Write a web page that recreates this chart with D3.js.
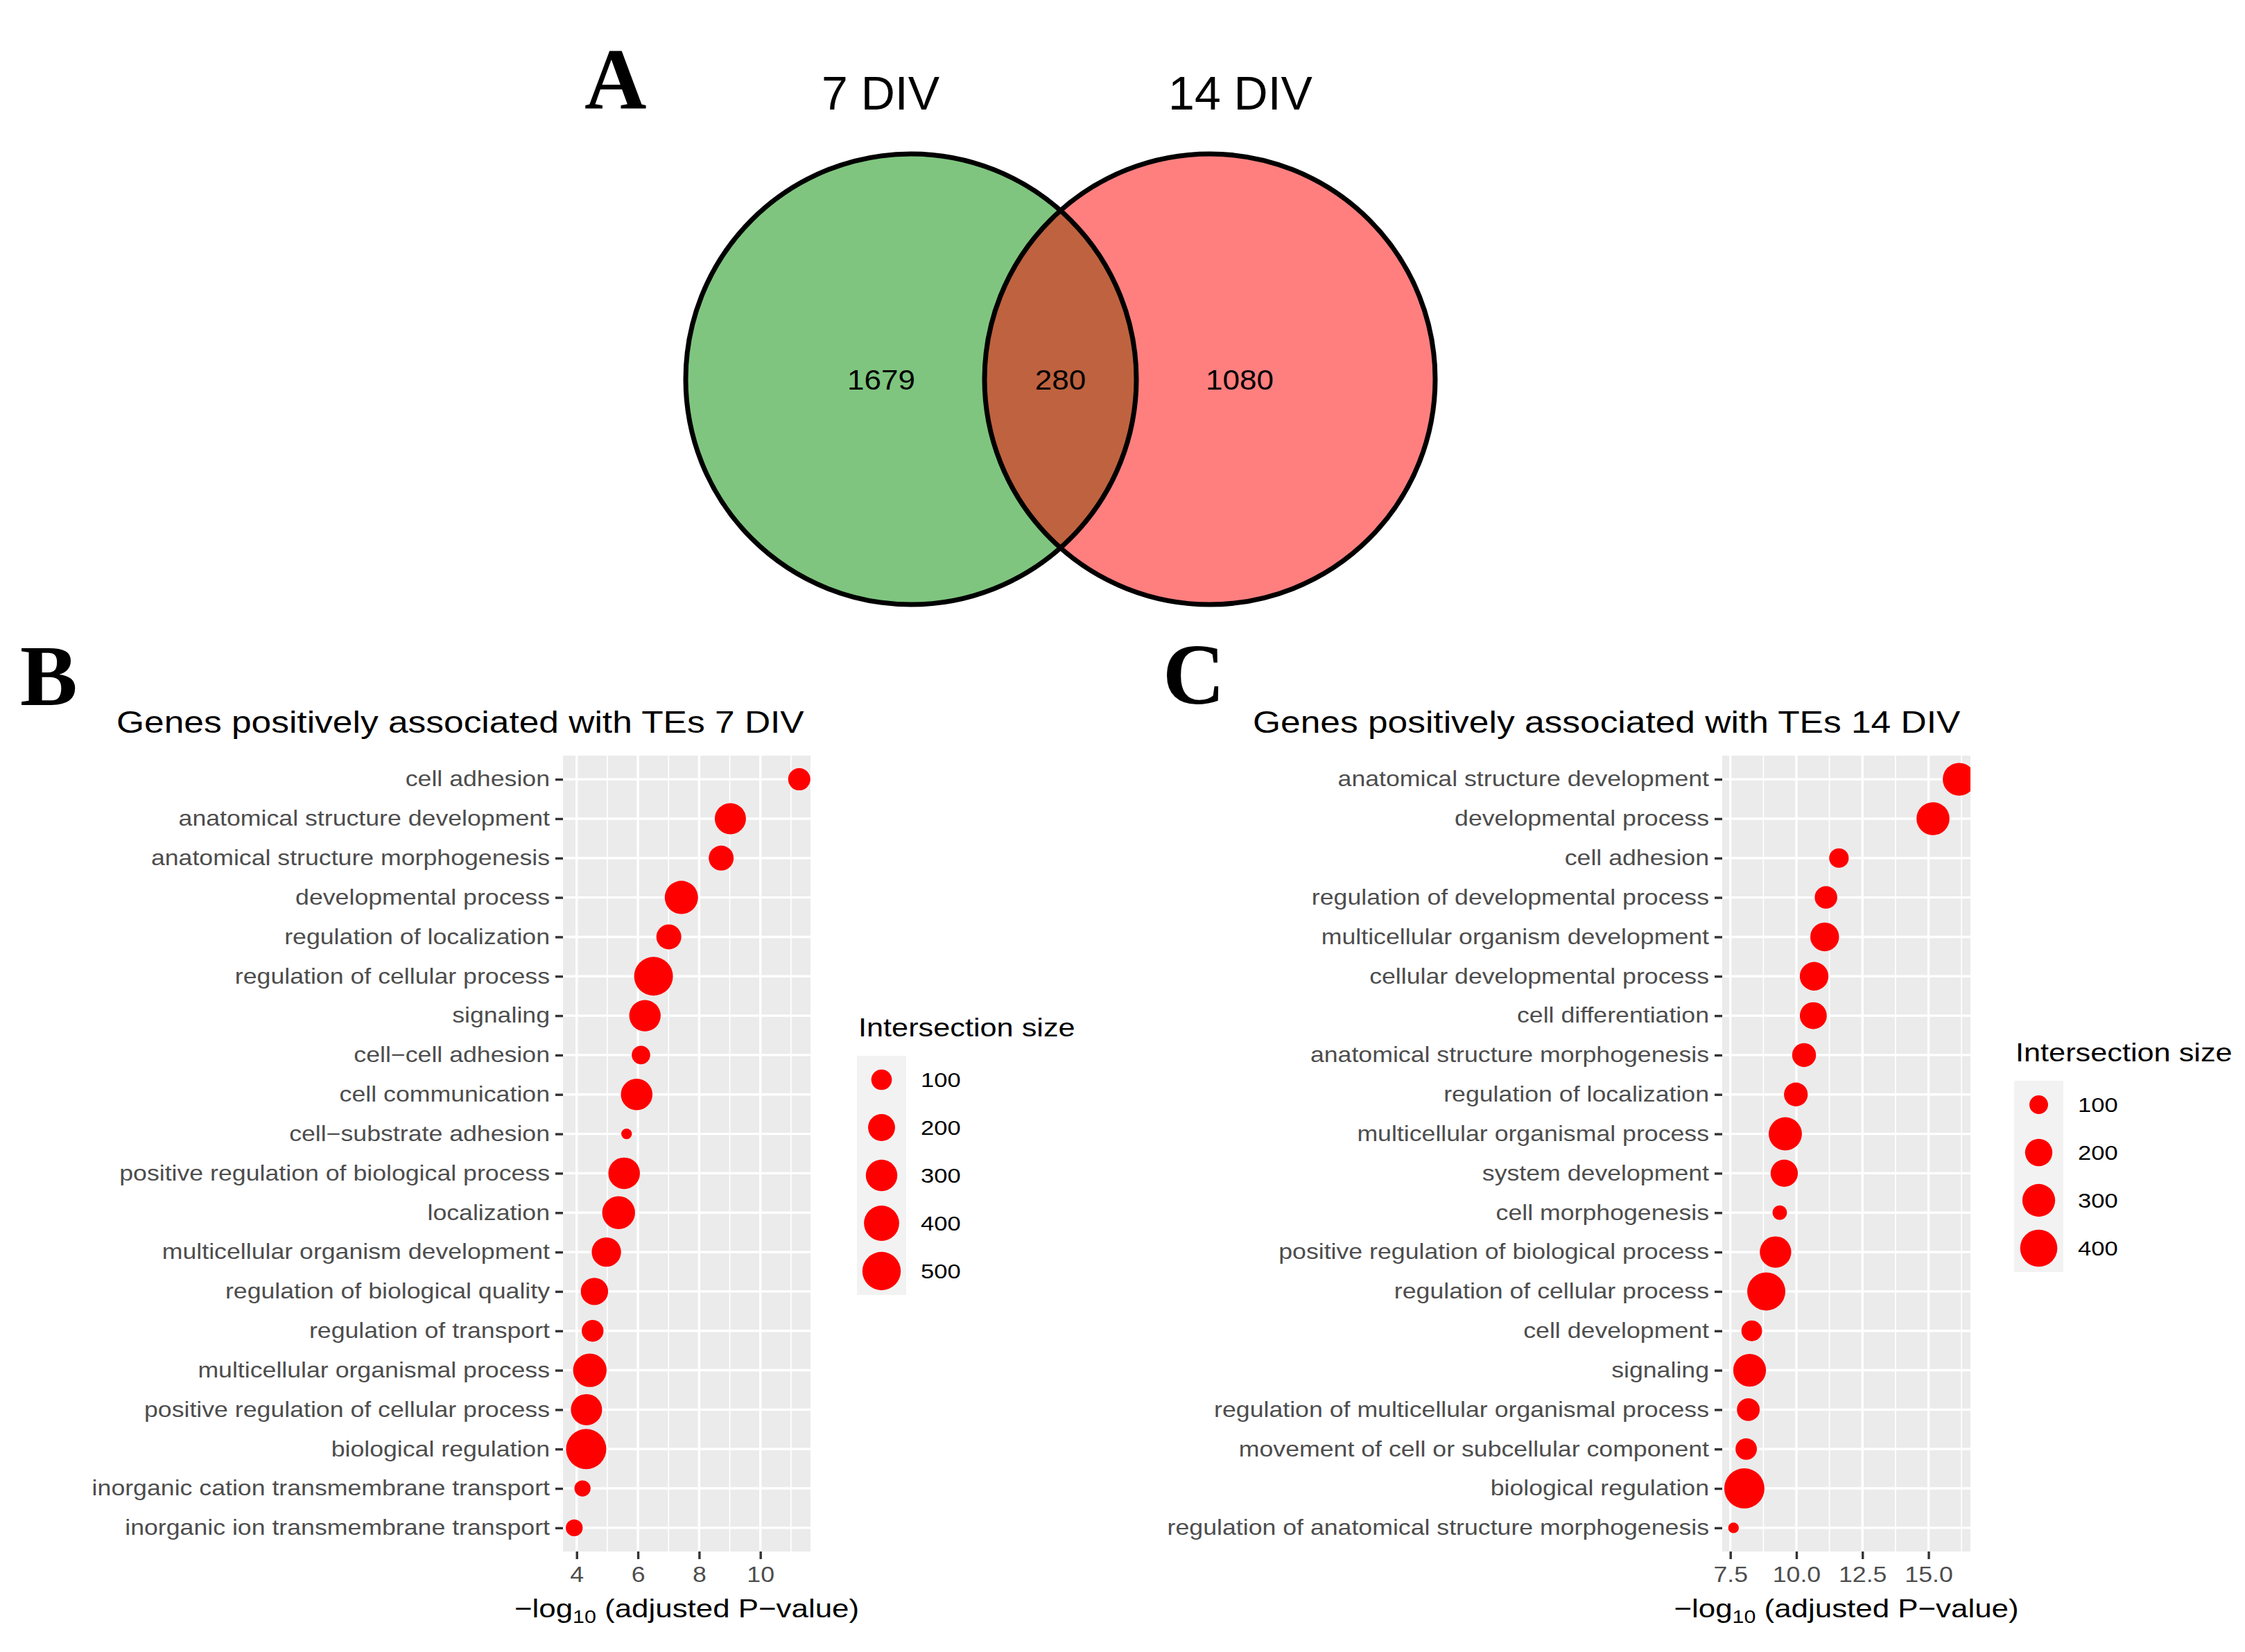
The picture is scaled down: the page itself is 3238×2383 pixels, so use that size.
<!DOCTYPE html>
<html>
<head>
<meta charset="utf-8">
<script src="https://cdn.jsdelivr.net/npm/d3@7"></script>
<style>
  html, body { margin: 0; padding: 0; background: #ffffff; }
  svg { display: block; }
</style>
</head>
<body>
<div id="chart"></div>
<script>
// ---------------- DATA ----------------
const vennSets = ["7 DIV", "14 DIV"];
const vennCounts = [1679, 280, 1080]; // left only, overlap, right only

const termsB = [
  "cell adhesion", "anatomical structure development", "anatomical structure morphogenesis",
  "developmental process", "regulation of localization", "regulation of cellular process",
  "signaling", "cell\u2212cell adhesion", "cell communication", "cell\u2212substrate adhesion",
  "positive regulation of biological process", "localization", "multicellular organism development",
  "regulation of biological quality", "regulation of transport", "multicellular organismal process",
  "positive regulation of cellular process", "biological regulation",
  "inorganic cation transmembrane transport", "inorganic ion transmembrane transport"
];
const pvalB = [11.27, 9.02, 8.72, 7.42, 7.01, 6.51, 6.23, 6.10, 5.96, 5.63,
               5.55, 5.37, 4.97, 4.58, 4.52, 4.43, 4.32, 4.31, 4.19, 3.92];
const sizeB = [121, 293, 163, 346, 163, 513, 299, 78, 302, 42,
               302, 335, 250, 207, 115, 353, 293, 561, 60, 65];

const termsC = [
  "anatomical structure development", "developmental process", "cell adhesion",
  "regulation of developmental process", "multicellular organism development",
  "cellular developmental process", "cell differentiation", "anatomical structure morphogenesis",
  "regulation of localization", "multicellular organismal process", "system development",
  "cell morphogenesis", "positive regulation of biological process", "regulation of cellular process",
  "cell development", "signaling", "regulation of multicellular organismal process",
  "movement of cell or subcellular component", "biological regulation",
  "regulation of anatomical structure morphogenesis"
];
const pvalC = [16.16, 15.17, 11.61, 11.12, 11.07, 10.67, 10.64, 10.29, 9.98, 9.58,
               9.54, 9.37, 9.21, 8.86, 8.31, 8.23, 8.18, 8.10, 8.03, 7.62];
const sizeC = [300, 304, 107, 136, 224, 222, 195, 152, 151, 309,
               199, 77, 273, 424, 117, 301, 139, 124, 480, 70];

const ticksB = [4, 6, 8, 10];
const ticksC = [7.5, 10.0, 12.5, 15.0];
const legendBreaksB = [100, 200, 300, 400, 500];
const legendBreaksC = [100, 200, 300, 400];
const titleB = "Genes positively associated with TEs 7 DIV";
const titleC = "Genes positively associated with TEs 14 DIV";
const legendTitle = "Intersection size";

// ---------------- LAYOUT ----------------
const W = 3238, H = 2383;
const SANS = "'Liberation Sans', Arial, Helvetica, sans-serif";
const SERIF = "'Liberation Serif', 'Times New Roman', serif";
const SX = 1.17; // horizontal stretch of ggplot text in the reference

const svg = d3.select("#chart").append("svg")
  .attr("width", W).attr("height", H).attr("viewBox", `0 0 ${W} ${H}`);
svg.append("rect").attr("width", W).attr("height", H).attr("fill", "#ffffff");

function stext(parent, x, y, str, o) {
  o = o || {};
  const g = parent.append("g").attr("transform", `translate(${x},${y}) scale(${o.sx || 1},1)`);
  return g.append("text")
    .attr("x", 0).attr("y", 0)
    .attr("text-anchor", o.anchor || "start")
    .attr("font-family", o.family || SANS)
    .attr("font-weight", o.weight || "normal")
    .attr("font-size", o.size || 30)
    .attr("fill", o.color || "#000000")
    .text(str);
}

// ---------------- PANEL A: Venn ----------------
const venn = {cx1: 1314, cx2: 1745, cy: 547, r: 325};
const vg = svg.append("g");
vg.append("circle").attr("cx", venn.cx1).attr("cy", venn.cy).attr("r", venn.r)
  .attr("fill", "rgb(0,140,0)").attr("fill-opacity", 0.5);
vg.append("circle").attr("cx", venn.cx2).attr("cy", venn.cy).attr("r", venn.r)
  .attr("fill", "rgb(255,0,0)").attr("fill-opacity", 0.5);
[venn.cx1, venn.cx2].forEach(cx => {
  vg.append("circle").attr("cx", cx).attr("cy", venn.cy).attr("r", venn.r)
    .attr("fill", "none").attr("stroke", "#000").attr("stroke-width", 7);
});
const setX = [venn.cx1 - 44, venn.cx2 + 44];
vennSets.forEach((s, i) => stext(vg, setX[i], 158, s, {size: 68, anchor: "middle"}));
const countX = [venn.cx1 - 43, (venn.cx1 + venn.cx2) / 2, venn.cx2 + 43];
vennCounts.forEach((c, i) => stext(vg, countX[i], 562, String(c), {size: 40, anchor: "middle", sx: 1.1}));

stext(svg, 843, 156, "A", {size: 124, family: SERIF, weight: "bold"});
stext(svg, 29, 1017, "B", {size: 124, family: SERIF, weight: "bold"});
stext(svg, 1677, 1015, "C", {size: 124, family: SERIF, weight: "bold"});

// ---------------- DOT PLOTS ----------------
function dotPlot(cfg) {
  const {terms, pvals, sizes, ticks, fmt, left, right, top, bottom, title, titleX,
         legendBreaks, legX, legTitleY, id} = cfg;
  const g = svg.append("g");
  const ext = d3.extent(pvals);
  const pad = 0.05 * (ext[1] - ext[0]);
  const x = d3.scaleLinear().domain([ext[0] - pad, ext[1] + pad]).range([left, right]);
  const y = d3.scalePoint().domain(terms).range([top, bottom]).padding(0.6);
  const sExt = d3.extent(sizes);
  const rS = d3.scaleSqrt().domain([0, sExt[1] - sExt[0]]).range([7.7, 29]);
  const r = v => rS(Math.max(0, v - sExt[0]));

  // panel background
  g.append("rect").attr("x", left).attr("y", top).attr("width", right - left).attr("height", bottom - top)
    .attr("fill", "#EBEBEB");
  // minor grid
  const step = ticks[1] - ticks[0];
  const minors = [ticks[0] - step / 2].concat(ticks.map(t => t + step / 2))
    .filter(m => m > x.domain()[0] && m < x.domain()[1]);
  g.selectAll(".minor").data(minors).join("line")
    .attr("x1", d => x(d)).attr("x2", d => x(d)).attr("y1", top).attr("y2", bottom)
    .attr("stroke", "#ffffff").attr("stroke-width", 1.7);
  // major grid
  g.selectAll(".majorx").data(ticks).join("line")
    .attr("x1", d => x(d)).attr("x2", d => x(d)).attr("y1", top).attr("y2", bottom)
    .attr("stroke", "#ffffff").attr("stroke-width", 3.4);
  g.selectAll(".majory").data(terms).join("line")
    .attr("x1", left).attr("x2", right).attr("y1", d => y(d)).attr("y2", d => y(d))
    .attr("stroke", "#ffffff").attr("stroke-width", 3.4);

  // points (clipped to panel)
  g.append("clipPath").attr("id", "clip" + id).append("rect")
    .attr("x", left).attr("y", top).attr("width", right - left).attr("height", bottom - top);
  g.append("g").attr("clip-path", `url(#clip${id})`)
    .selectAll("circle").data(terms).join("circle")
    .attr("cx", (d, i) => x(pvals[i])).attr("cy", d => y(d)).attr("r", (d, i) => r(sizes[i]))
    .attr("fill", "#FF0000");

  // y axis
  const ya = g.append("g").attr("transform", `translate(${left},0)`)
    .call(d3.axisLeft(y).tickSize(11).tickPadding(8));
  ya.select(".domain").remove();
  ya.selectAll("line").attr("stroke", "#333333").attr("stroke-width", 3.4);
  ya.selectAll("text").attr("font-family", SANS).attr("font-size", 30.5).attr("fill", "#4D4D4D")
    .attr("x", -19 / SX).attr("transform", `scale(${SX},1)`);
  ya.attr("font-size", null).attr("font-family", null);

  // x axis
  const xa = g.append("g").attr("transform", `translate(0,${bottom})`)
    .call(d3.axisBottom(x).tickValues(ticks).tickFormat(fmt).tickSize(11).tickPadding(11));
  xa.select(".domain").remove();
  xa.selectAll("line").attr("stroke", "#333333").attr("stroke-width", 3.4);
  xa.selectAll("text").attr("font-family", SANS).attr("font-size", 30.5).attr("fill", "#4D4D4D")
    .attr("transform", `scale(${SX},1)`)
    .attr("x", 0);
  xa.selectAll(".tick").each(function() {
    // counter the stretch on the anchor position: tick g is translated; text x=0 stays centered
  });
  xa.attr("font-size", null).attr("font-family", null);

  // axis title with subscript
  const cx = (left + right) / 2;
  const at = g.append("g").attr("transform", `translate(${cx},2333) scale(${SX},1)`)
    .append("text").attr("text-anchor", "middle").attr("font-family", SANS)
    .attr("font-size", 37.5).attr("fill", "#000");
  at.append("tspan").text("\u2212log");
  at.append("tspan").attr("font-size", 26).attr("dy", 8).text("10");
  at.append("tspan").attr("dy", -8).text(" (adjusted P\u2212value)");

  // title
  stext(g, titleX, 1057, title, {size: 44, sx: SX});

  // legend
  const keyH = 69, keyW = 71;
  const boxY = legTitleY + 28;
  stext(g, legX + 2, legTitleY, legendTitle, {size: 37, sx: SX});
  g.append("rect").attr("x", legX).attr("y", boxY).attr("width", keyW)
    .attr("height", keyH * legendBreaks.length).attr("fill", "#F2F2F2");
  legendBreaks.forEach((b, i) => {
    const cy = boxY + keyH * (i + 0.5);
    g.append("circle").attr("cx", legX + keyW / 2).attr("cy", cy).attr("r", r(b)).attr("fill", "#FF0000");
    stext(g, legX + keyW + 21, cy + 10.6, String(b), {size: 29.5, sx: SX});
  });
}

dotPlot({
  id: "B", terms: termsB, pvals: pvalB, sizes: sizeB, ticks: ticksB, fmt: d3.format("d"),
  left: 812, right: 1169, top: 1090, bottom: 2238, title: titleB, titleX: 168,
  legendBreaks: legendBreaksB, legX: 1236, legTitleY: 1495
});
dotPlot({
  id: "C", terms: termsC, pvals: pvalC, sizes: sizeC, ticks: ticksC, fmt: d3.format(".1f"),
  left: 2484, right: 2842, top: 1090, bottom: 2238, title: titleC, titleX: 1807,
  legendBreaks: legendBreaksC, legX: 2905, legTitleY: 1531
});
</script>
</body>
</html>
